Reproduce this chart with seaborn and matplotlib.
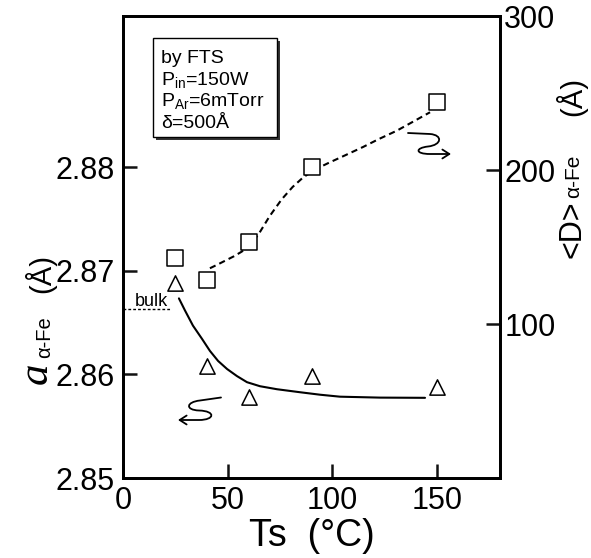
import numpy as np
import pandas as pd
import matplotlib
matplotlib.use("Agg")
import matplotlib.pyplot as plt
import seaborn as sns
from matplotlib.path import Path
from matplotlib.patches import FancyArrowPatch, Rectangle
from matplotlib.transforms import Affine2D

# ---------------- data ----------------
ts_points = [25, 40, 60, 90, 150]
lattice_a = [2.8688, 2.8608, 2.8578, 2.8598, 2.8588]
grain_D = [143, 128.6, 153, 202, 244]

fit_a_T = [26.7, 29.6, 33.4, 37.7, 41.5, 45.4, 49.7, 54.4, 59.2, 65.4, 73.5, 84.5, 94.1, 103.6, 122.7, 144.2]
fit_a = [2.86734, 2.86617, 2.86471, 2.86344, 2.86227, 2.86130, 2.86052, 2.85984,
         2.85925, 2.85886, 2.85857, 2.85828, 2.85804, 2.85785, 2.85776, 2.85774]

fit_D_T = [41.5, 45.0, 49.5, 53.0, 56.7, 60.0, 64.6, 70.0, 75.8, 81.0, 86.1, 92.0,
           98.0, 106.0, 114.7, 122.0, 130.7, 138.0, 146.6]
fit_D = [136.2, 138.5, 141.6, 144.0, 147.0, 150.5, 158.0, 170.0, 181.0, 189.0, 195.3, 200.5,
         204.5, 209.5, 215.0, 220.0, 225.5, 231.0, 237.5]

bulk_T = [0, 23]
bulk_a = [2.8663, 2.8663]

x_ticks = [0, 50, 100, 150]
a_ticks = [2.85, 2.86, 2.87, 2.88]
D_ticks = [100, 200, 300]

info_lines = ["by FTS", r"P$_{\mathrm{in}}$=150W", r"P$_{\mathrm{Ar}}$=6mTorr", "δ=500Å"]

# ---------------- style ----------------
sns.set_theme(style="ticks", rc={"xtick.direction": "in", "ytick.direction": "in"})
plt.rcParams['font.family'] = ['Liberation Sans', 'DejaVu Sans']
plt.rcParams['mathtext.fontset'] = 'custom'
plt.rcParams['mathtext.rm'] = 'Liberation Sans'
plt.rcParams['mathtext.it'] = 'Liberation Sans:italic'
plt.rcParams['mathtext.bf'] = 'Liberation Sans:bold'

W, H = 591, 558
fig = plt.figure(figsize=(W / 100, H / 100), dpi=100)
fig.patch.set_facecolor('white')
ax = fig.add_axes([123 / W, 1 - 478 / H, 377 / W, 462 / H])
ax.set_facecolor('white')
ax2 = ax.twinx()

px = Affine2D().scale(1 / W, -1 / H).translate(0, 1) + fig.transFigure

# ---------------- marks ----------------
sns.lineplot(x=bulk_T, y=bulk_a, ax=ax, color='black', lw=1.0,
             linestyle=(0, (2, 1.5)), estimator=None, sort=False)
sns.lineplot(x=fit_a_T, y=fit_a, ax=ax, color='black', lw=1.5,
             estimator=None, sort=False)
sns.scatterplot(x=ts_points, y=lattice_a, ax=ax, marker='^', s=121,
                color='white', edgecolor='black', linewidth=1.1, zorder=3)

sns.lineplot(x=fit_D_T, y=fit_D, ax=ax2, color='black', lw=1.5,
             linestyle=(0, (3, 2)), estimator=None, sort=False)
sns.scatterplot(x=ts_points, y=grain_D, ax=ax2, marker='s', s=121,
                color='white', edgecolor='black', linewidth=1.1, zorder=3)

# ---------------- axes ----------------
ax.set_xlim(0, 180)
ax.set_ylim(2.85, 2.8946)
ax2.set_ylim(0, 300)
ax.set_xticks(x_ticks)
ax.set_xticklabels([str(v) for v in x_ticks])
ax.set_yticks(a_ticks)
ax.set_yticklabels([f"{v:.2f}" for v in a_ticks])
ax2.set_yticks(D_ticks)
ax2.set_yticklabels([str(v) for v in D_ticks])

for a in (ax, ax2):
    for s in a.spines.values():
        s.set_linewidth(2.0)
        s.set_color('black')
        s.set_visible(True)
ax.tick_params(axis='both', which='major', direction='in', length=10, width=1.8,
               labelsize=22, color='#111111', labelcolor='black',
               top=False, right=False, left=True, bottom=True)
ax.tick_params(axis='y', pad=6)
ax.tick_params(axis='x', pad=6)
ax2.tick_params(axis='y', which='major', direction='in', length=10, width=1.8,
                labelsize=22, color='#111111', labelcolor='black', pad=3,
                right=True, left=False)
ax.grid(False)
ax2.grid(False)

ax.set_xlabel("Ts  (°C)", fontsize=27, color='black', labelpad=1)
ax.set_ylabel("")
ax2.set_ylabel("")

# axis labels composed of pieces (rotated, reading bottom to top)
lab = dict(transform=px, rotation=90, rotation_mode='anchor', ha='left',
           va='baseline', color='black')
fig.text(47, 384, "a", fontsize=31, family='Liberation Serif', style='italic', **lab)
fig.text(50, 358, "α-Fe", fontsize=14.5, **lab)
fig.text(50, 293, "(Å)", fontsize=21, **lab)
fig.text(581, 258, "<D>", fontsize=22, **lab)
fig.text(579, 198, "α-Fe", fontsize=15, **lab)
fig.text(581, 116, "(Å)", fontsize=21, **lab)

ax.text(5.7, 2.86656, "bulk", fontsize=13, va='baseline', ha='left', color='black')

# ---------------- info box ----------------
fig.add_artist(Rectangle((156, 41), 124, 99, transform=px, facecolor='#333333',
                         edgecolor='none', zorder=5))
fig.add_artist(Rectangle((153, 38), 124, 99, transform=px, facecolor='white',
                         edgecolor='black', lw=1.0, zorder=6))
for i, line in enumerate(info_lines):
    fig.text(161, 63 + i * 21.5, line, transform=px, fontsize=14, va='baseline',
             ha='left', color='black', zorder=7)

# ---------------- curly arrows ----------------
codes = [Path.MOVETO, Path.LINETO, Path.CURVE4, Path.CURVE4, Path.CURVE4,
         Path.CURVE4, Path.CURVE4, Path.CURVE4, Path.LINETO]
left_verts = [(221, 397.5), (200, 400.5), (186, 402), (185, 410), (199, 410.5),
              (216, 411), (215, 420), (199, 420), (178, 420)]
right_verts = [(408, 133), (430, 134), (443, 135), (442, 145), (428, 146.5),
               (415, 148), (415, 154), (430, 154), (451, 154)]
for verts in (left_verts, right_verts):
    arr = FancyArrowPatch(path=Path(verts, codes), transform=px,
                          arrowstyle='->,head_length=0.5,head_width=0.32',
                          mutation_scale=10, lw=1.3, color='black', zorder=7)
    fig.add_artist(arr)

fig.savefig("out.png", dpi=100)
